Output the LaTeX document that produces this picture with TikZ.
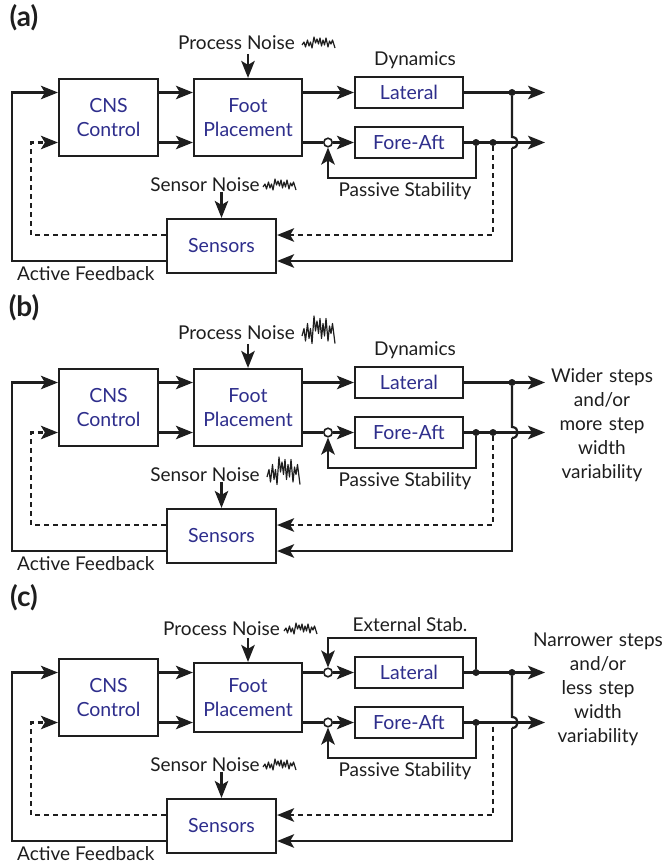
\documentclass[tikz,border=0pt]{standalone}
\usepackage{fontspec}
\setmainfont{Lato}
\usetikzlibrary{arrows.meta,calc}

\definecolor{ink}{HTML}{1E1E1E}
\definecolor{boxtext}{HTML}{2E2E8C}

\tikzset{
  blk/.style={draw=ink, line width=2.2pt, minimum width=108pt, minimum height=31pt,
              inner sep=0pt, text=boxtext, font=\fontsize{19.5}{24.5}\selectfont, align=center},
  lbl/.style={text=ink, font=\fontsize{19}{24}\selectfont, inner sep=0pt, align=center},
  plabel/.style={text=ink, font=\fontsize{28}{30}\selectfont\bfseries, inner sep=0pt},
  wire/.style={draw=ink, line width=2.2pt},
  sig/.style={wire, -{Stealth[length=17pt,width=13.5pt,inset=4pt]}},
  dwire/.style={wire, dash pattern=on 5pt off 4pt},
  dsig/.style={sig, dash pattern=on 5pt off 4pt},
  jdot/.style={circle, fill=ink, inner sep=0pt, minimum size=7pt},
  sumpt/.style={circle, draw=ink, fill=white, line width=1.6pt, inner sep=0pt, minimum size=8.5pt},
  noiseline/.style={draw=ink, line width=1.2pt, line join=round},
}

% noise trace: #1,#2 = start point, #3 = vertical amplitude factor
\newcommand\noisetrace[3]{%
  \begin{scope}[shift={(#1,#2)}, yscale=#3]
    \draw[noiseline] (0,2) -- (2,-1) -- (3.5,4) -- (5.5,-3) -- (7,3) -- (8.5,-1)
      -- (10,5) -- (12,-6) -- (13.5,0) -- (15,-4) -- (16.5,1) -- (18,-5)
      -- (19.5,3) -- (21,-3) -- (22.5,2) -- (24,-5) -- (26,4) -- (27.5,-2)
      -- (29,1) -- (30.5,-3) -- (33,5);
  \end{scope}}

% blocks and loops shared by all three panels; #1 = name prefix, #2 = foot box height
\newcommand\panelbody[2]{%
  \node[blk, minimum width=99pt, minimum height=77pt] (#1cns) at (108.5,117.5) {CNS\\Control};
  \node[blk, minimum width=108pt, minimum height=#2] (#1foot) at (248,117.5) {Foot\\Placement};
  \node[blk] (#1lat) at (409,92.5) {Lateral};
  \node[blk] (#1fa) at (409,142.5) {Fore-Aft};
  \node[blk, minimum width=109pt, minimum height=54pt] (#1sens) at (221.5,246) {Sensors};
  % routing columns and rows
  \coordinate (#1xl) at (12,0);
  \coordinate (#1xd) at (31,0);
  \coordinate (#1xc) at (328,0);
  \coordinate (#1xp) at (476,0);
  \coordinate (#1xs) at (493,0);
  \coordinate (#1xo) at (512,0);
  \coordinate (#1xe) at (545,0);
  \coordinate (#1rowp) at (0,178);
  \coordinate (#1rowd) at (0,235);
  \coordinate (#1rowa) at (0,261);
  % junctions
  \node[sumpt] (#1fsum) at (#1xc |- #1fa.west) {};
  \node[jdot] (#1fdot) at (#1xp |- #1fa.east) {};
  \node[jdot] (#1ldot) at (#1xo |- #1lat.east) {};
  \coordinate (#1lout) at (#1xe |- #1lat.east);
  \coordinate (#1fout) at (#1xe |- #1fa.east);
  \coordinate (#1hopa) at ($(#1xo |- #1fa.east)+(0,-5.5)$);
  \coordinate (#1hopb) at ($(#1xo |- #1fa.east)+(0,5.5)$);
  % forward path
  \draw[sig] (#1cns.east |- #1lat.west) -- (#1foot.west |- #1lat.west);
  \draw[sig] (#1cns.east |- #1fa.west) -- (#1foot.west |- #1fa.west);
  \draw[wire] (#1foot.east |- #1fa.west) -- (#1fsum.west);
  \draw[sig] (#1fsum.east) -- (#1fa.west);
  \draw[sig] (#1lat.east) -- (#1lout);
  \draw[sig] (#1fa.east) -- (#1fout);
  % passive stability loop
  \draw[sig] (#1fdot) -- (#1xp |- #1rowp) -- (#1xc |- #1rowp) -- (#1fsum.south);
  \node[lbl] (#1pstab) at (405,191) {Passive Stability};
  % lateral output back to the sensors, hopping over the fore-aft line
  \draw[wire] (#1ldot) -- (#1hopa) .. controls +(7.5,0) and +(7.5,0) .. (#1hopb);
  \draw[sig] (#1hopb) -- (#1xo |- #1rowa) -- (#1sens.east |- #1rowa);
  % active feedback to the controller
  \draw[sig] (#1sens.west |- #1rowa) -- (#1xl |- #1rowa) -- (#1xl |- #1lat.west) -- (#1cns.west |- #1lat.west);
  \draw[dsig] (#1sens.west |- #1rowd) -- (#1xd |- #1rowd) -- (#1xd |- #1fa.west) -- (#1cns.west |- #1fa.west);
  \node[lbl, anchor=west] (#1afb) at (17,273.5) {Active Feedback};
  % sensor noise
  \node[lbl] (#1sn) at (205,185) {Sensor Noise};
  \coordinate (#1snsrc) at ($(#1sens.north)+(0,-26)$);
  \draw[sig] (#1snsrc) -- (#1sens.north);
  % process noise input
  \coordinate (#1pnsrc) at ($(#1foot.north)+(0,-24)$);
  \draw[sig] (#1pnsrc) -- (#1foot.north);
}

\begin{document}
\begin{tikzpicture}[x=1pt, y=-1pt]
\useasboundingbox[fill=white] (0,0) rectangle (667,864);

% ---------------- (a) ----------------
\begin{scope}
  \node[plabel] (pa) at (24,18) {(a)};
  \panelbody{a}{77pt}
  \node[lbl] (apn) at (236.5,43) {Process Noise};
  \noisetrace{302}{43}{1}
  \noisetrace{263}{185}{1}
  \node[lbl] (adyn) at (415,60) {Dynamics};
  \draw[sig] (afoot.east |- alat.west) -- (alat.west);
  \node[jdot] (asdot) at (axs |- afa.east) {};
  \draw[dsig] (asdot) -- (axs |- arowd) -- (asens.east |- arowd);
\end{scope}

% ---------------- (b) ----------------
\begin{scope}[shift={(0,290)}]
  \node[plabel] (pb) at (24,18) {(b)};
  \panelbody{b}{77pt}
  \node[lbl] (bpn) at (236.5,43) {Process Noise};
  \noisetrace{302}{41}{2.5}
  \noisetrace{267}{182}{2.5}
  \node[lbl] (bdyn) at (415,60) {Dynamics};
  \draw[sig] (bfoot.east |- blat.west) -- (blat.west);
  \node[jdot] (bsdot) at (bxs |- bfa.east) {};
  \draw[dsig] (bsdot) -- (bxs |- browd) -- (bsens.east |- browd);
  \node[lbl, text width=130pt] (bout) at (602,135) {Wider steps\\and/or\\more step\\width\\variability};
\end{scope}

% ---------------- (c) ----------------
\begin{scope}[shift={(0,580)}]
  \node[plabel] (pc) at (24,18) {(c)};
  \panelbody{c}{69pt}
  \node[lbl] (cpn) at (221.5,49) {Process Noise};
  \noisetrace{284}{49}{1}
  \noisetrace{263}{185}{1}
  \node[sumpt] (clsum) at (cxc |- clat.west) {};
  \node[jdot] (cedot) at (cxp |- clat.east) {};
  \coordinate (crowe) at (0,58);
  \draw[wire] (cfoot.east |- clat.west) -- (clsum.west);
  \draw[sig] (clsum.east) -- (clat.west);
  \draw[sig] (cedot) -- (cxp |- crowe) -- (cxc |- crowe) -- (clsum.north);
  \node[lbl] (cext) at (410,45) {External Stab.};
  \coordinate (cstap) at ($(cxs |- cfa.east)+(0,4)$);
  \draw[dsig] (cstap) -- (cxs |- crowd) -- (csens.east |- crowd);
  \node[lbl, text width=140pt] (coutt) at (598,109) {Narrower steps\\and/or\\less step\\width\\variability};
\end{scope}
\end{tikzpicture}
\end{document}
